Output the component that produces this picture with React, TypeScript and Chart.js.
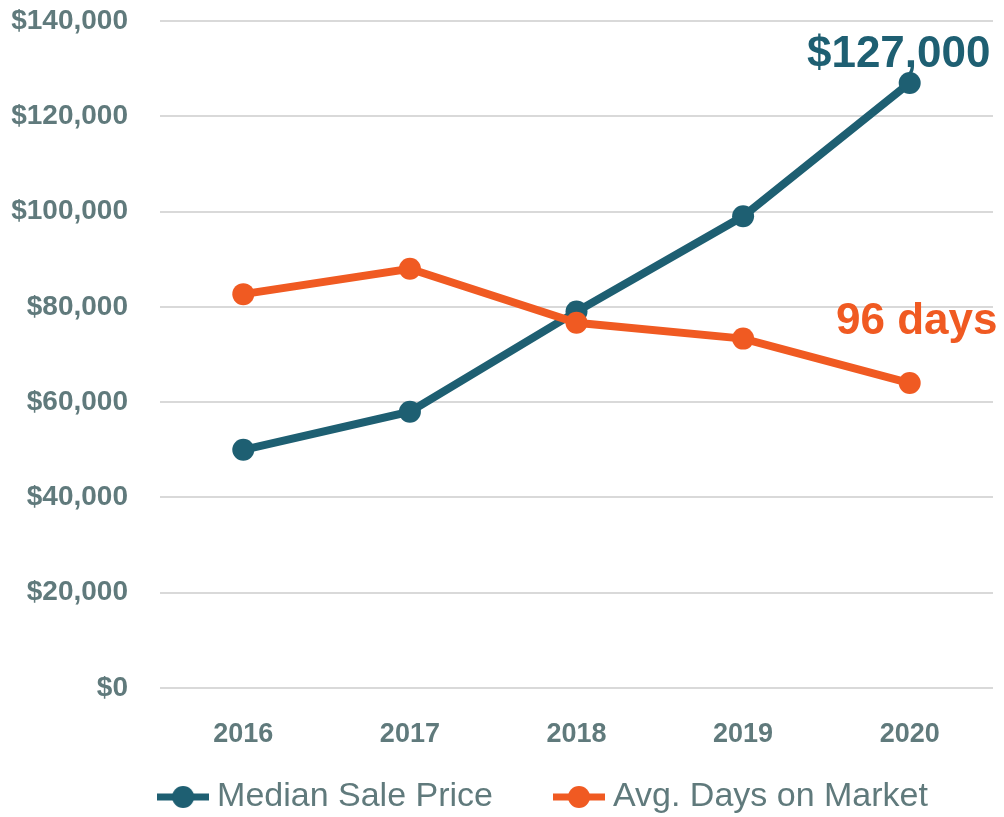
import React, { useEffect, useRef } from "react";
import { Chart, registerables } from "chart.js";

Chart.register(...registerables);

// ---- data ----
const years = ["2016", "2017", "2018", "2019", "2020"];
const medianSalePrice = [50000, 58000, 79000, 99000, 127000];
const avgDaysOnMarket = [124, 132, 115, 110, 96];
const seriesNames = ["Median Sale Price", "Avg. Days on Market"];
const endLabels = ["$127,000", "96 days"];
const priceAxis = { min: 0, max: 140000, step: 20000 };
const daysAxis = { min: 0, max: 210 };

// ---- styles ----
const TEAL = "#1E5F72";
const ORANGE = "#F05A22";
const TICK = "#607A7C";
const GRID = "#D9D9D9";
const FONT = '"Liberation Sans", Arial, Helvetica, sans-serif';

function makeMarker(color: string): HTMLCanvasElement {
  const c = document.createElement("canvas");
  c.width = 52;
  c.height = 24;
  const g = c.getContext("2d")!;
  g.strokeStyle = color;
  g.lineWidth = 7;
  g.beginPath();
  g.moveTo(0, 12);
  g.lineTo(52, 12);
  g.stroke();
  g.fillStyle = color;
  g.beginPath();
  g.arc(26, 12, 11, 0, Math.PI * 2);
  g.fill();
  return c;
}

const endLabelPlugin = {
  id: "endLabels",
  beforeDatasetsDraw(chart: any) {
    const ctx = chart.ctx;
    const specs = [
      { ds: 0, dx: -11, dy: -16, color: TEAL },
      { ds: 1, dx: 7, dy: -49, color: ORANGE },
    ];
    specs.forEach((s, i) => {
      const meta = chart.getDatasetMeta(s.ds);
      const pt = meta.data[meta.data.length - 1];
      if (!pt) return;
      ctx.save();
      ctx.font = `bold 44px ${FONT}`;
      ctx.fillStyle = s.color;
      ctx.textAlign = "center";
      ctx.textBaseline = "alphabetic";
      ctx.fillText(endLabels[i], pt.x + s.dx, pt.y + s.dy);
      ctx.restore();
    });
  },
};

// place the legend box where the reference has it
const legendPlacePlugin = {
  id: "legendPlace",
  afterLayout(chart: any) {
    const l = chart.legend;
    if (!l) return;
    l.left = 97;
    l.right = 997;
    l.top = 711;
    l.bottom = 817;
  },
};

export default function App() {
  const ref = useRef<HTMLCanvasElement | null>(null);

  useEffect(() => {
    if (!ref.current) return;
    const colors = [TEAL, ORANGE];
    const markers = colors.map(makeMarker);
    const chart = new Chart(ref.current, {
      type: "line",
      data: {
        labels: years,
        datasets: [
          {
            label: seriesNames[0],
            data: medianSalePrice,
            borderColor: TEAL,
            backgroundColor: TEAL,
            borderWidth: 8,
            pointRadius: 11,
            pointBackgroundColor: TEAL,
            pointBorderWidth: 0,
            tension: 0,
            yAxisID: "y",
            order: 1,
          },
          {
            label: seriesNames[1],
            data: avgDaysOnMarket,
            borderColor: ORANGE,
            backgroundColor: ORANGE,
            borderWidth: 8,
            pointRadius: 11,
            pointBackgroundColor: ORANGE,
            pointBorderWidth: 0,
            tension: 0,
            yAxisID: "y1",
            order: 0,
          },
        ],
      },
      options: {
        responsive: false,
        animation: false,
        layout: { padding: { top: 21, left: 0, right: 7, bottom: 0 } },
        plugins: {
          tooltip: { enabled: false },
          legend: {
            position: "bottom",
            maxHeight: 69,
            labels: {
              usePointStyle: true,
              pointStyleWidth: 34,
              padding: 69,
              color: TICK,
              font: { size: 34, family: FONT },
              generateLabels: () =>
                seriesNames.map((name, i) => ({
                  text: name,
                  pointStyle: markers[i],
                  fillStyle: colors[i],
                  strokeStyle: colors[i],
                  lineWidth: 0,
                  hidden: false,
                  datasetIndex: i,
                  fontColor: TICK,
                })),
            },
          },
        },
        scales: {
          x: {
            offset: true,
            grid: { display: false },
            border: { display: false },
            ticks: {
              color: TICK,
              padding: 22,
              maxRotation: 0,
              autoSkip: false,
              font: { size: 27, weight: "bold", family: FONT },
            },
            afterFit: (s: any) => {
              s.height = 60;
              s.paddingLeft = 0;
              s.paddingRight = 0;
            },
          },
          y: {
            min: priceAxis.min,
            max: priceAxis.max,
            border: { display: false },
            grid: { color: GRID, lineWidth: 2, drawTicks: false },
            ticks: {
              stepSize: priceAxis.step,
              color: TICK,
              padding: 32,
              font: { size: 28, weight: "bold", family: FONT },
              callback: (v: any) => "$" + Number(v).toLocaleString("en-US"),
            },
            afterFit: (s: any) => {
              s.width = 160;
              s.paddingTop = 0;
              s.paddingBottom = 0;
            },
          },
          y1: {
            display: false,
            min: daysAxis.min,
            max: daysAxis.max,
            position: "right",
            grid: { display: false },
          },
        },
      },
      plugins: [endLabelPlugin, legendPlacePlugin],
    } as any);
    return () => chart.destroy();
  }, []);

  return (
    <div style={{ position: "absolute", left: 0, top: 0, width: 1004, height: 817 }}>
      <canvas ref={ref} width={1004} height={817} style={{ display: "block" }} />
    </div>
  );
}
